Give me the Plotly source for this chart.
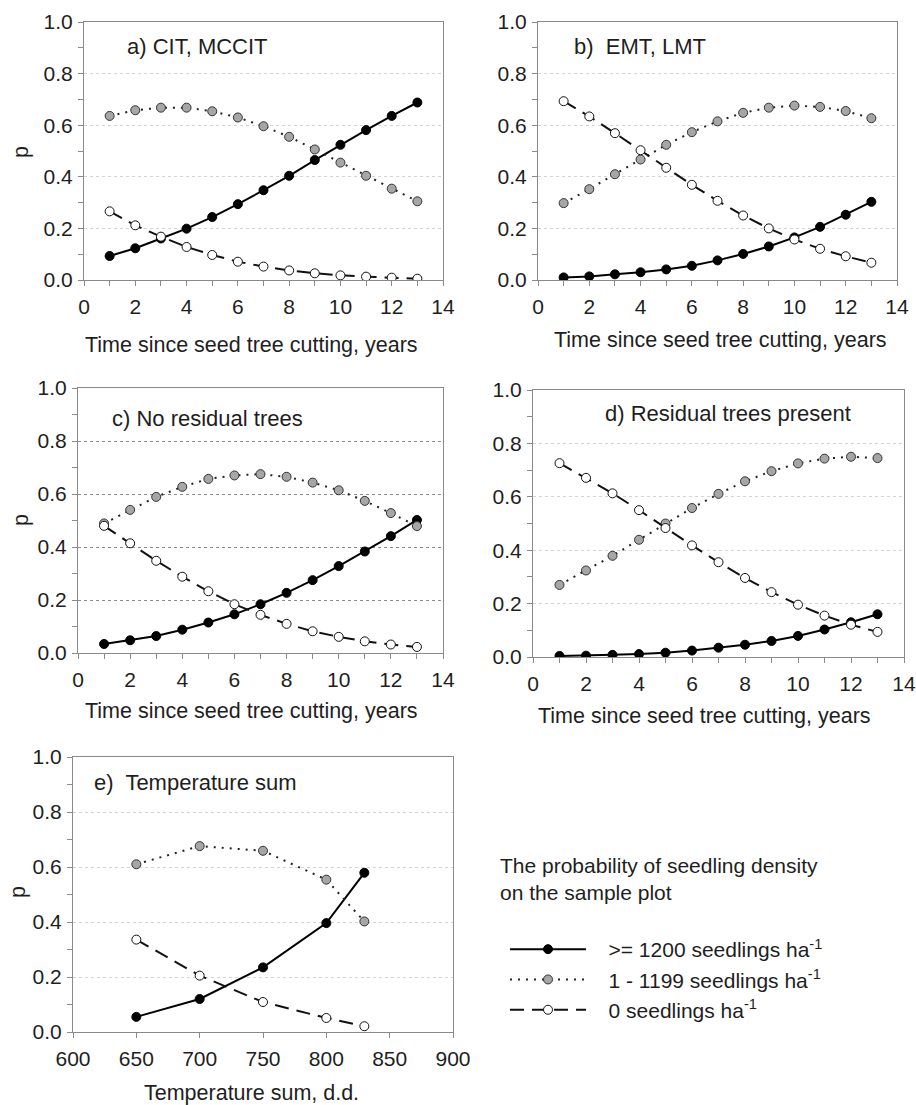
import plotly.graph_objects as go

# ---------------- data ----------------
years = list(range(1, 14))
temp_sum = [650, 700, 750, 800, 830]

a_high = [0.093, 0.123, 0.161, 0.199, 0.244, 0.294, 0.348, 0.404, 0.465, 0.524, 0.581, 0.636, 0.688]
a_mid = [0.636, 0.658, 0.668, 0.668, 0.654, 0.630, 0.596, 0.555, 0.506, 0.455, 0.404, 0.354, 0.305]
a_zero = [0.266, 0.212, 0.168, 0.128, 0.097, 0.071, 0.052, 0.037, 0.026, 0.018, 0.013, 0.009, 0.005]

b_high = [0.010, 0.014, 0.022, 0.030, 0.041, 0.055, 0.076, 0.101, 0.130, 0.165, 0.206, 0.253, 0.303]
b_mid = [0.298, 0.352, 0.410, 0.467, 0.524, 0.573, 0.615, 0.648, 0.668, 0.676, 0.671, 0.655, 0.627]
b_zero = [0.693, 0.634, 0.569, 0.503, 0.435, 0.369, 0.307, 0.250, 0.200, 0.157, 0.121, 0.092, 0.067]

c_high = [0.034, 0.048, 0.064, 0.088, 0.115, 0.146, 0.184, 0.227, 0.275, 0.328, 0.383, 0.441, 0.502]
c_mid = [0.489, 0.540, 0.589, 0.627, 0.657, 0.670, 0.675, 0.665, 0.643, 0.614, 0.574, 0.528, 0.479]
c_zero = [0.480, 0.414, 0.348, 0.288, 0.233, 0.184, 0.144, 0.110, 0.082, 0.061, 0.044, 0.032, 0.023]

d_high = [0.004, 0.005, 0.008, 0.011, 0.016, 0.024, 0.035, 0.046, 0.060, 0.079, 0.103, 0.130, 0.160]
d_mid = [0.270, 0.324, 0.379, 0.439, 0.500, 0.558, 0.611, 0.658, 0.696, 0.725, 0.743, 0.750, 0.745]
d_zero = [0.726, 0.671, 0.613, 0.550, 0.483, 0.418, 0.355, 0.296, 0.243, 0.196, 0.155, 0.121, 0.094]

e_high = [0.055, 0.120, 0.235, 0.396, 0.579]
e_mid = [0.610, 0.676, 0.659, 0.554, 0.402]
e_zero = [0.336, 0.205, 0.109, 0.051, 0.021]

series_names = ["&nbsp;&nbsp;&nbsp;&gt;= 1200 seedlings ha<sup>-1</sup>",
                "&nbsp;&nbsp;&nbsp;1 - 1199 seedlings ha<sup>-1</sup>",
                "&nbsp;&nbsp;&nbsp;0 seedlings ha<sup>-1</sup>"]
panel_labels = ["a) CIT, MCCIT", "b)  EMT, LMT", "c) No residual trees",
                "d) Residual trees present", "e)  Temperature sum"]
x_title_years = "Time since seed tree cutting, years"
x_title_temp = "Temperature sum, d.d."
y_title = "p"
legend_heading = "The probability of seedling density<br>on the sample plot"

# ---------------- layout geometry ----------------
W, H = 916, 1105
FONT = "Liberation Sans, Arial, sans-serif"
TXT = "#1e1e1e"
AX = "#8a8a8a"
FS = 21

# (left, right, top, bottom) in pixels
boxes = [(84, 443, 22, 280), (538, 897, 22, 280), (78, 443, 388, 653),
         (533, 904, 390, 657), (73, 453, 757, 1032)]
grid_colors = ["#d4d4d4", "#d4d4d4", "#8c8c8c", "#d4d4d4", "#d4d4d4"]
xtitle_pos = [(251, 345), (720, 340), (251, 711), (704, 716), (252, 1093)]
ytitle_pos = {0: (21, 152), 2: (21, 520), 4: (18, 892)}
label_pos = [(125, 47), (572, 47), (110, 418), (603, 413), (92, 782)]

panels = [
    (years, a_high, a_mid, a_zero),
    (years, b_high, b_mid, b_zero),
    (years, c_high, c_mid, c_zero),
    (years, d_high, d_mid, d_zero),
    (temp_sum, e_high, e_mid, e_zero),
]

fig = go.Figure()

styles = [
    dict(line=dict(color="black", width=2, dash="solid"),
         marker=dict(color="black", size=9, line=dict(color="black", width=1))),
    dict(line=dict(color="#222222", width=2, dash="2px,6px"),
         marker=dict(color="#a6a6a6", size=9, line=dict(color="#333333", width=1))),
    dict(line=dict(color="#111111", width=2, dash="14px,8px"),
         marker=dict(color="white", size=9, line=dict(color="#111111", width=1))),
]

for i, (xv, hi, mid, zero) in enumerate(panels):
    k = "" if i == 0 else str(i + 1)
    for j, yv in enumerate([hi, mid, zero]):
        fig.add_trace(go.Scatter(
            x=xv, y=yv, mode="lines+markers", name=series_names[j],
            xaxis="x" + k, yaxis="y" + k,
            showlegend=(i == 0), legendgroup="g%d" % j,
            line=styles[j]["line"], marker=styles[j]["marker"],
            hoverinfo="skip"))

def ann(text, px, py, size=FS, xanchor="center", angle=0, align="center"):
    return dict(text=text, xref="paper", yref="paper", x=px / W, y=1 - py / H,
                xanchor=xanchor, yanchor="middle", showarrow=False, align=align,
                textangle=angle, font=dict(size=size, color=TXT, family=FONT))

layout = dict(
    width=W, height=H, margin=dict(l=0, r=0, t=0, b=0, autoexpand=False),
    paper_bgcolor="white", plot_bgcolor="white",
    font=dict(family=FONT, color=TXT, size=FS),
    showlegend=True,
    legend=dict(x=505 / W, y=1 - 929 / H, xanchor="left", yanchor="top",
                font=dict(size=FS, family=FONT, color=TXT),
                itemwidth=76, tracegroupgap=0, traceorder="grouped",
                bgcolor="rgba(0,0,0,0)"),
    annotations=[],
)

for i, (l, r, t, b) in enumerate(boxes):
    n = i + 1
    k = "" if i == 0 else str(n)
    is_temp = (i == 4)
    xr = [600, 900] if is_temp else [0, 14]
    xaxis = dict(
        domain=[l / W, r / W], anchor="y" + k, range=xr, automargin=False,
        dtick=50 if is_temp else 2, tick0=xr[0],
        ticks="outside", ticklen=5, tickwidth=1, tickcolor=AX,
        showline=True, linecolor=AX, linewidth=1, mirror=True,
        showgrid=False, zeroline=False, fixedrange=True,
        tickfont=dict(size=FS, color=TXT), ticklabelstandoff=3,
    )
    if not is_temp:
        xaxis["minor"] = dict(dtick=1, ticks="outside", ticklen=5, tickcolor=AX, tickwidth=1)
    yaxis = dict(
        domain=[1 - b / H, 1 - t / H], anchor="x" + k, range=[0, 1], automargin=False,
        dtick=0.2, tickformat=".1f",
        ticks="outside", ticklen=5, tickwidth=1, tickcolor=AX,
        showline=True, linecolor=AX, linewidth=1, mirror=True,
        showgrid=True, gridcolor=grid_colors[i], griddash="dot", gridwidth=1,
        zeroline=False, fixedrange=True,
        tickfont=dict(size=FS, color=TXT), ticklabelstandoff=1,
        minor=dict(dtick=0.1, ticks="outside", ticklen=5, tickcolor=AX, tickwidth=1, showgrid=False),
    )
    layout["xaxis" + k] = xaxis
    layout["yaxis" + k] = yaxis
    # inward ticks on the right and top sides
    layout["yaxis%d" % (n + 5)] = dict(
        overlaying="y" + k, anchor="x" + k, side="right", range=[0, 1], automargin=False,
        dtick=0.1, ticks="inside", ticklen=5, tickcolor=AX, tickwidth=1,
        showticklabels=False, showline=False, showgrid=False, zeroline=False,
        fixedrange=True)
    layout["xaxis%d" % (n + 5)] = dict(
        overlaying="x" + k, anchor="y" + k, side="top", range=xr, automargin=False,
        dtick=50 if is_temp else 1, tick0=xr[0], ticks="inside", ticklen=5,
        tickcolor=AX, tickwidth=1,
        showticklabels=False, showline=False, showgrid=False, zeroline=False,
        fixedrange=True)
    layout["annotations"].append(ann(panel_labels[i], *label_pos[i], size=22, xanchor="left"))
    layout["annotations"].append(ann(x_title_temp if is_temp else x_title_years,
                                     *xtitle_pos[i], size=21.5))
    if i in ytitle_pos:
        layout["annotations"].append(ann(y_title, *ytitle_pos[i], size=21.5, angle=-90))

layout["annotations"].append(ann(legend_heading, 498, 879, xanchor="left", align="left"))

fig.update_layout(**layout)
fig.write_html("out.html", config={"displayModeBar": False},
               post_script="document.body.style.margin='0px';")
